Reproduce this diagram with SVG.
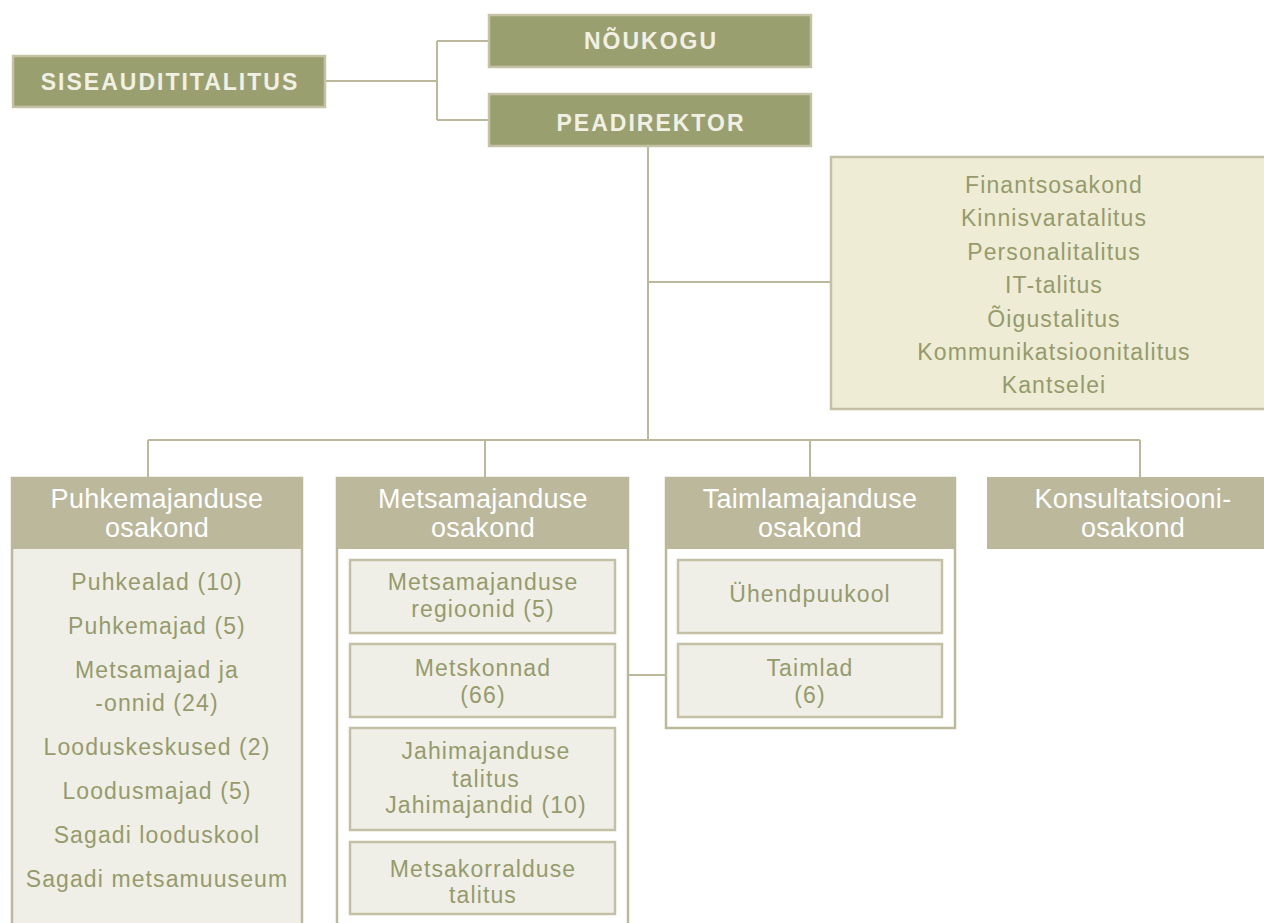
<svg xmlns="http://www.w3.org/2000/svg" width="1264" height="923" viewBox="0 0 1264 923">
<style>
.top rect{fill:#9a9f6f;stroke:#c6c2a6;stroke-width:2.5}
.top text{font-family:"Liberation Sans",Arial,sans-serif;font-weight:bold;font-size:23px;letter-spacing:2px;fill:#f1f0e4;text-anchor:middle}
.hdr{fill:#bbb89b;stroke:#bbb89b;stroke-width:2}
.outer{fill:#ffffff;stroke:#bcb89c;stroke-width:2.5}
.body{fill:#f0efe7;stroke:#bcb89c;stroke-width:2.5}
.inner{fill:#f0efe7;stroke:#c4c0a5;stroke-width:2.5}
.side{fill:#eeecd5;stroke:#c4c0a5;stroke-width:2.5}
.h{font-family:"Liberation Sans",Arial,sans-serif;font-size:27px;fill:#ffffff;text-anchor:middle;letter-spacing:0.3px}
.t{font-family:"Liberation Sans",Arial,sans-serif;font-size:23px;fill:#959b6b;text-anchor:middle;letter-spacing:1.1px}
.conn path{fill:none;stroke:#bcb89c;stroke-width:2}
</style>
<g class="conn">
<path d="M326 81H437M437 41V120M437 41H489M437 120H489"/>
<path d="M648 147V440M648 282H831"/>
<path d="M148 440H1140M148 440V478M485 440V478M810 440V478M1140 440V478"/>
<path d="M616 675H678"/>
<path d="M810 634V643"/>
</g>
<g id="siseaudit" class="top"><rect x="13" y="56" width="312" height="51"/><text x="170" y="90">SISEAUDITITALITUS</text></g>
<g id="noukogu" class="top"><rect x="489" y="15" width="322" height="52"/><text x="651" y="49">NÕUKOGU</text></g>
<g id="peadirektor" class="top"><rect x="489" y="94" width="322" height="52"/><text x="651" y="131">PEADIREKTOR</text></g>
<g id="talitused">
<rect class="side" x="831" y="157" width="450" height="252"/>
<text class="t" x="1054" y="193">Finantsosakond</text>
<text class="t" x="1054" y="226">Kinnisvaratalitus</text>
<text class="t" x="1054" y="260">Personalitalitus</text>
<text class="t" x="1054" y="293">IT-talitus</text>
<text class="t" x="1054" y="327">Õigustalitus</text>
<text class="t" x="1054" y="360">Kommunikatsioonitalitus</text>
<text class="t" x="1054" y="393">Kantselei</text>
</g>
<g id="puhkemajandus">
<rect class="body" x="12" y="478" width="290" height="460"/>
<rect class="hdr" x="12" y="478" width="290" height="70"/>
<text class="h" x="157" y="508">Puhkemajanduse</text>
<text class="h" x="157" y="537">osakond</text>
<text class="t" x="157" y="590">Puhkealad (10)</text>
<text class="t" x="157" y="634">Puhkemajad (5)</text>
<text class="t" x="157" y="678">Metsamajad ja</text>
<text class="t" x="157" y="711">-onnid (24)</text>
<text class="t" x="157" y="755">Looduskeskused (2)</text>
<text class="t" x="157" y="799">Loodusmajad (5)</text>
<text class="t" x="157" y="843">Sagadi looduskool</text>
<text class="t" x="157" y="887">Sagadi metsamuuseum</text>
</g>
<g id="metsamajandus">
<rect class="outer" x="337" y="478" width="291" height="460"/>
<rect class="hdr" x="337" y="478" width="291" height="70"/>
<text class="h" x="483" y="508">Metsamajanduse</text>
<text class="h" x="483" y="537">osakond</text>
</g>
<g id="regioonid"><rect class="inner" x="350" y="560" width="265" height="73"/><text class="t" x="483" y="590">Metsamajanduse</text><text class="t" x="483" y="617">regioonid (5)</text></g>
<g id="metskonnad"><rect class="inner" x="350" y="644" width="265" height="73"/><text class="t" x="483" y="676">Metskonnad</text><text class="t" x="483" y="703">(66)</text></g>
<g id="jahimajandus"><rect class="inner" x="350" y="728" width="265" height="102"/><text class="t" x="486" y="759">Jahimajanduse</text><text class="t" x="486" y="787">talitus</text><text class="t" x="486" y="813">Jahimajandid (10)</text></g>
<g id="metsakorraldus"><rect class="inner" x="350" y="842" width="265" height="72"/><text class="t" x="483" y="877">Metsakorralduse</text><text class="t" x="483" y="903">talitus</text></g>
<g id="taimlamajandus">
<rect class="outer" x="666" y="478" width="289" height="250"/>
<rect class="hdr" x="666" y="478" width="289" height="70"/>
<text class="h" x="810" y="508">Taimlamajanduse</text>
<text class="h" x="810" y="537">osakond</text>
</g>
<g id="uhendpuukool"><rect class="inner" x="678" y="560" width="264" height="73"/><text class="t" x="810" y="602">Ühendpuukool</text></g>
<g id="taimlad"><rect class="inner" x="678" y="644" width="264" height="73"/><text class="t" x="810" y="676">Taimlad</text><text class="t" x="810" y="703">(6)</text></g>
<g id="konsultatsioon">
<rect class="hdr" x="988" y="478" width="290" height="70"/>
<text class="h" x="1133" y="508">Konsultatsiooni-</text>
<text class="h" x="1133" y="537">osakond</text>
</g>
</svg>
